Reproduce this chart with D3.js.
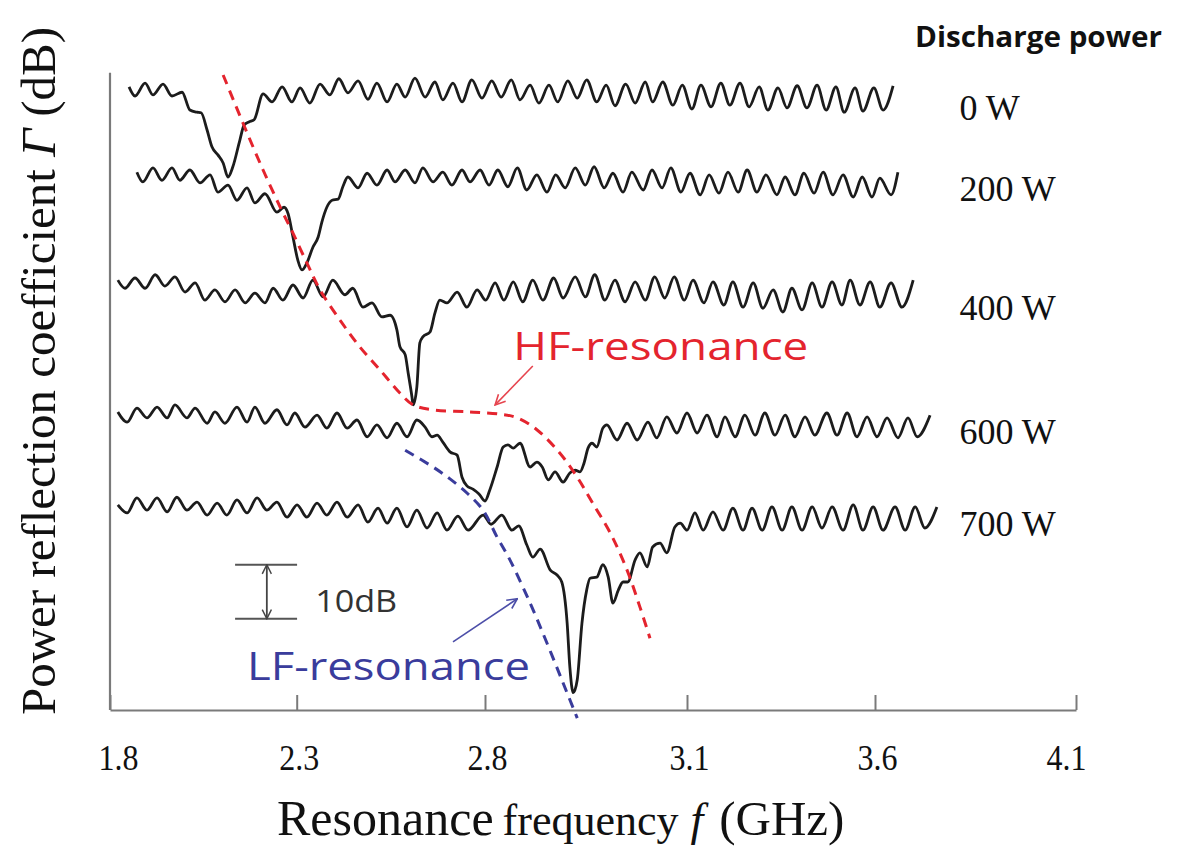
<!DOCTYPE html>
<html><head><meta charset="utf-8">
<script src="https://cdn.jsdelivr.net/npm/d3@7/dist/d3.min.js"></script>
<style>
html,body{margin:0;padding:0;background:#fff;}
svg{display:block;}
</style></head><body>
<svg id="chart" width="1177" height="851"></svg>
<script>
// ---------- data (frequency in GHz, reflection in dB relative to each trace's offset) ----------
const tickLabels = [1.8, 2.3, 2.8, 3.1, 3.6, 4.1];
const powers = ["0 W", "200 W", "400 W", "600 W", "700 W"];
const offsets = [-5, -20, -42, -65, -82];   // stacking offset of each trace (dB)

const trace0W = [[1.851,0.4],[1.867,-1.3],[1.894,1.1],[1.915,-1.1],[1.942,0.9],[1.966,-1.3],[1.993,-0.6],[2.014,-3.9],[2.033,-4.3],[2.044,-4.4],[2.060,-7.6],[2.073,-10.7],[2.089,-12.2],[2.103,-13.7],[2.116,-16.3],[2.129,-14.4],[2.148,-9.4],[2.159,-6.7],[2.172,-6.1],[2.186,-5.7],[2.210,-0.9],[2.234,-2.4],[2.261,0.4],[2.287,-2.4],[2.309,0.2],[2.335,-2.6],[2.362,0.9],[2.388,-1.1],[2.412,1.9],[2.436,-0.7],[2.463,1.5],[2.489,-1.9],[2.513,1.1],[2.540,-2.4],[2.566,0.9],[2.588,-1.5],[2.614,2.0],[2.641,-1.5],[2.667,1.3],[2.688,-2.0],[2.715,1.1],[2.739,-2.4],[2.765,1.7],[2.792,-1.7],[2.810,1.5],[2.824,-1.5],[2.839,1.7],[2.852,-2.0],[2.867,0.7],[2.880,-2.6],[2.895,0.7],[2.908,-2.4],[2.923,1.5],[2.937,-1.7],[2.951,1.7],[2.966,-2.4],[2.980,0.7],[2.993,-3.1],[3.009,0.9],[3.023,-2.6],[3.038,1.3],[3.049,-2.4],[3.064,1.3],[3.079,-3.0],[3.093,0.7],[3.113,-3.7],[3.137,0.7],[3.164,-3.3],[3.190,1.1],[3.214,-3.0],[3.241,1.1],[3.265,-3.3],[3.292,0.4],[3.315,-3.9],[3.342,0.2],[3.366,-3.5],[3.393,0.6],[3.419,-3.5],[3.446,0.7],[3.470,-3.9],[3.496,0.4],[3.518,-4.3],[3.547,0.2],[3.568,-4.1],[3.597,0.2],[3.620,-3.9],[3.645,0.6]];

const trace200W = [[1.872,-0.4],[1.888,-2.2],[1.915,0.4],[1.939,-1.9],[1.966,0.4],[1.987,-1.9],[2.014,0],[2.041,-2.4],[2.068,-0.9],[2.089,-4.1],[2.116,-2.8],[2.140,-5.6],[2.167,-3.3],[2.188,-6.1],[2.215,-4.4],[2.247,-7.8],[2.266,-6.9],[2.277,-8.1],[2.290,-12.4],[2.303,-16.7],[2.314,-18.5],[2.327,-17.2],[2.343,-14.3],[2.357,-12.4],[2.367,-9.6],[2.380,-6.9],[2.394,-5.6],[2.410,-5.4],[2.423,-3.0],[2.436,-1.3],[2.463,-3.3],[2.487,-0.6],[2.513,-2.8],[2.540,0],[2.561,-2.2],[2.588,0],[2.614,-2.4],[2.635,0.4],[2.662,-2.2],[2.688,-0.4],[2.712,-2.8],[2.739,0],[2.760,-2.2],[2.787,0],[2.806,-2.8],[2.819,0],[2.834,-3.1],[2.848,0.4],[2.862,-3.7],[2.877,-0.9],[2.892,-4.1],[2.905,-0.9],[2.919,-3.3],[2.934,0.4],[2.949,-2.8],[2.962,0.6],[2.977,-3.3],[2.990,-0.6],[3.005,-4.1],[3.018,-0.4],[3.035,-3.7],[3.048,0],[3.063,-3.3],[3.076,0.4],[3.091,-4.1],[3.108,-0.6],[3.135,-4.6],[3.159,-0.9],[3.185,-4.3],[3.209,-0.4],[3.236,-4.1],[3.260,0],[3.286,-4.1],[3.310,-0.9],[3.339,-4.6],[3.361,-1.3],[3.387,-4.6],[3.411,-0.6],[3.438,-4.3],[3.462,-0.4],[3.488,-4.6],[3.515,-0.9],[3.542,-5.0],[3.566,-1.3],[3.592,-5.0],[3.612,-1.5],[3.640,-4.6],[3.657,-0.4]];

const trace400W = [[1.821,1.6],[1.840,0.1],[1.867,2.0],[1.894,0.1],[1.921,2.6],[1.947,0.5],[1.974,2.2],[2.001,-0.6],[2.028,1.1],[2.054,-2.1],[2.081,-0.2],[2.108,-2.4],[2.135,-0.2],[2.162,-2.6],[2.188,-0.8],[2.215,-2.6],[2.237,0.1],[2.263,-2.1],[2.290,0.7],[2.317,-1.7],[2.343,1.6],[2.370,-1.5],[2.396,1.6],[2.428,-1.1],[2.449,0.1],[2.476,-3.4],[2.500,-2.6],[2.526,-5.2],[2.548,-4.9],[2.566,-7.6],[2.574,-10.7],[2.588,-12.2],[2.596,-15.6],[2.606,-20.0],[2.609,-21.5],[2.619,-18.2],[2.627,-10.0],[2.635,-8.9],[2.654,-8.0],[2.667,-4.5],[2.680,-2.1],[2.699,-2.6],[2.726,-0.6],[2.752,-3.4],[2.779,-0.2],[2.801,-2.1],[2.815,1.1],[2.828,-2.1],[2.842,1.3],[2.856,-2.4],[2.871,1.6],[2.886,-2.1],[2.902,2.0],[2.916,-1.7],[2.934,2.2],[2.949,-1.5],[2.963,2.6],[2.978,-2.1],[2.993,1.6],[3.008,-2.4],[3.023,1.3],[3.038,-2.1],[3.052,2.2],[3.067,-1.7],[3.081,2.2],[3.096,-2.1],[3.116,1.6],[3.145,-2.6],[3.169,1.3],[3.198,-3.0],[3.222,1.3],[3.249,-3.4],[3.276,1.1],[3.302,-3.6],[3.329,-0.2],[3.355,-4.3],[3.379,0.1],[3.406,-3.9],[3.433,1.1],[3.459,-3.4],[3.486,1.3],[3.512,-3.0],[3.534,1.6],[3.560,-3.0],[3.587,1.3],[3.612,-3.4],[3.640,1.1],[3.667,-3.4],[3.695,1.6]];

const trace600W = [[1.821,0.2],[1.846,-1.7],[1.872,0.9],[1.899,-0.9],[1.926,1.1],[1.953,-0.9],[1.974,1.5],[2.006,-0.9],[2.028,0.9],[2.060,-1.9],[2.081,0.2],[2.108,-1.9],[2.140,1.1],[2.167,-1.7],[2.188,1.1],[2.215,-1.9],[2.247,0.6],[2.274,-2.2],[2.295,0],[2.322,-2.6],[2.354,-0.4],[2.380,-2.8],[2.407,0],[2.434,-2.8],[2.460,-1.3],[2.487,-4.4],[2.513,-2.2],[2.540,-4.6],[2.566,-1.9],[2.593,-4.4],[2.619,-1.3],[2.641,-2.6],[2.659,-4.4],[2.673,-4.1],[2.688,-5.4],[2.707,-7.2],[2.726,-7.8],[2.739,-11.9],[2.752,-13.5],[2.768,-14.1],[2.784,-15.0],[2.800,-16.3],[2.807,-14.3],[2.818,-10.0],[2.827,-6.3],[2.834,-5.9],[2.842,-6.5],[2.852,-5.6],[2.867,-10.0],[2.877,-9.1],[2.885,-10.0],[2.894,-12.4],[2.904,-10.9],[2.916,-12.8],[2.926,-11.1],[2.934,-10.6],[2.941,-10.9],[2.947,-9.3],[2.953,-6.5],[2.959,-5.6],[2.966,-6.3],[2.975,-2.8],[2.981,-2.2],[2.996,-5.0],[3.011,-1.9],[3.026,-5.0],[3.042,-1.7],[3.055,-4.6],[3.070,-0.7],[3.085,-3.7],[3.100,0],[3.127,-3.7],[3.153,-0.4],[3.180,-4.4],[3.201,-0.7],[3.228,-4.4],[3.254,-0.4],[3.281,-4.1],[3.307,0],[3.334,-4.1],[3.361,-0.4],[3.387,-4.4],[3.414,-0.7],[3.440,-4.1],[3.472,0],[3.499,-4.1],[3.526,0],[3.552,-4.4],[3.579,-0.7],[3.605,-4.4],[3.630,-0.9],[3.657,-4.6],[3.682,-0.9],[3.705,-4.4],[3.737,-0.4]];

const trace700W = [[1.821,0],[1.846,-1.5],[1.872,1.3],[1.899,-1.0],[1.926,1.3],[1.953,-1.3],[1.979,1.4],[2.006,-1.0],[2.033,0.5],[2.060,-1.9],[2.087,0.3],[2.113,-1.9],[2.140,0.9],[2.167,-1.5],[2.194,1.3],[2.220,-1.0],[2.247,0.5],[2.274,-2.3],[2.301,0],[2.327,-2.3],[2.354,0.3],[2.380,-1.9],[2.407,0.5],[2.434,-2.3],[2.463,0],[2.489,-3.2],[2.516,-0.6],[2.540,-3.4],[2.566,-0.6],[2.593,-4.1],[2.619,-1.0],[2.646,-4.3],[2.673,-1.5],[2.699,-4.7],[2.728,-2.1],[2.755,-4.7],[2.795,-1.9],[2.809,-3.6],[2.825,-1.9],[2.840,-4.7],[2.850,-3.9],[2.862,-7.4],[2.871,-9.7],[2.882,-8.2],[2.897,-12.1],[2.907,-13.0],[2.914,-14.3],[2.922,-21.9],[2.926,-30.0],[2.931,-34.8],[2.937,-32.4],[2.944,-21.9],[2.951,-15.8],[2.956,-13.6],[2.966,-13.4],[2.975,-11.1],[2.983,-13.4],[2.990,-18.2],[2.998,-15.8],[3.005,-14.3],[3.012,-14.3],[3.023,-10.2],[3.030,-8.9],[3.041,-11.5],[3.049,-7.8],[3.060,-7.1],[3.070,-8.9],[3.082,-4.1],[3.090,-3.4],[3.100,-4.7],[3.121,-1.5],[3.143,-4.7],[3.169,-1.3],[3.196,-4.7],[3.222,-0.6],[3.249,-4.7],[3.273,-0.6],[3.300,-4.7],[3.326,-0.4],[3.353,-4.7],[3.379,-0.4],[3.406,-4.7],[3.433,-0.4],[3.459,-4.3],[3.486,-0.4],[3.515,-4.7],[3.542,0],[3.568,-4.7],[3.595,-0.4],[3.620,-4.7],[3.650,-0.4],[3.675,-4.7],[3.700,-0.4],[3.724,-4.3],[3.754,-0.4]];

// resonance guide curves (absolute stacked dB)
const hfGuide = [[2.103,-2.4],[2.156,-11.3],[2.210,-20.0],[2.258,-27.2],[2.290,-31.7],[2.327,-37.2],[2.362,-42.2],[2.415,-47.8],[2.468,-52.8],[2.521,-57.0],[2.574,-61.3],[2.609,-63.5],[2.662,-64.4],[2.760,-64.8],[2.822,-65.2],[2.848,-65.9],[2.877,-68.1],[2.911,-72.4],[2.937,-76.9],[2.960,-81.7],[2.986,-87.2],[3.011,-94.1],[3.030,-100.9],[3.045,-106.7]];
const lfGuide = [[2.588,-71.9],[2.662,-75.0],[2.707,-77.2],[2.755,-80.0],[2.795,-83.0],[2.818,-88.0],[2.837,-92.2],[2.867,-100.2],[2.892,-107.6],[2.916,-115.0],[2.937,-121.5]];

const scaleBarDb = 10;

const traces = [trace0W, trace200W, trace400W, trace600W, trace700W];

// ---------- layout ----------
const svg = d3.select("#chart");
const x = d3.scaleLinear().domain(tickLabels).range([110, 296.7, 485, 687, 875, 1076]);
const y = d3.scaleLinear().domain([0, -120]).range([62, 710]);

const RED = "#e4242e", BLUE = "#3a3c9c";
const serif = "'Liberation Serif','Times New Roman',serif";
const sans = "'Open Sans','Noto Sans',sans-serif";

svg.append("defs").html(`
  <marker id="arrR" viewBox="0 0 12 12" refX="11" refY="6" markerWidth="12" markerHeight="12" markerUnits="userSpaceOnUse" orient="auto-start-reverse">
    <path d="M1,1 L11,6 L1,11" fill="none" stroke="#e6444e" stroke-width="1.6"/></marker>
  <marker id="arrB" viewBox="0 0 12 12" refX="11" refY="6" markerWidth="12" markerHeight="12" markerUnits="userSpaceOnUse" orient="auto-start-reverse">
    <path d="M1,1 L11,6 L1,11" fill="none" stroke="#4c4ea8" stroke-width="1.6"/></marker>
  <marker id="arrK" viewBox="0 0 12 12" refX="11" refY="6" markerWidth="11" markerHeight="11" markerUnits="userSpaceOnUse" orient="auto-start-reverse">
    <path d="M1,1 L11,6 L1,11" fill="none" stroke="#444" stroke-width="1.6"/></marker>
`);

// axes
const xAxis = d3.axisBottom(x).tickValues(tickLabels).tickFormat(d3.format(".1f"))
  .tickSize(-15).tickSizeOuter(0).tickPadding(34);
const gx = svg.append("g").attr("transform", `translate(0,${y(-120)})`).call(xAxis);
gx.select(".domain").attr("stroke", "#7a7a7a").attr("stroke-width", 2.2);
gx.selectAll(".tick line").attr("stroke", "#7a7a7a").attr("stroke-width", 2);
const nT = tickLabels.length;
gx.selectAll(".tick text").attr("fill", "#111")
  .style("font-family", serif).style("font-size", "36px")
  .attr("textLength", 40).attr("lengthAdjust", "spacingAndGlyphs")
  .attr("dx", (d, i) => i === 0 ? 8 : (i === nT - 1 ? -10 : 2));
svg.append("line").attr("x1", x(1.8)).attr("x2", x(1.8)).attr("y1", y(-2)).attr("y2", y(-120))
  .attr("stroke", "#7a7a7a").attr("stroke-width", 2.2);

// traces
traces.forEach((tr, i) => {
  const line = d3.line().x(d => x(d[0])).y(d => y(d[1] + offsets[i])).curve(d3.curveMonotoneX);
  svg.append("path").datum(tr).attr("d", line).attr("fill", "none")
    .attr("stroke", "#1c1c1c").attr("stroke-width", 2.8).attr("stroke-linejoin", "round");
  svg.append("text").attr("x", x(3.81)).attr("y", y(offsets[i]) + 31)
    .style("font-family", serif).style("font-size", "36px")
    .attr("fill", "#111").text(powers[i]);
});

// guide curves
const gLine = d3.line().x(d => x(d[0])).y(d => y(d[1])).curve(d3.curveCatmullRom);
svg.append("path").datum(hfGuide).attr("d", gLine).attr("fill", "none")
  .attr("stroke", RED).attr("stroke-width", 3).attr("stroke-dasharray", "10,7");
svg.append("path").datum(lfGuide).attr("d", gLine).attr("fill", "none")
  .attr("stroke", BLUE).attr("stroke-width", 3).attr("stroke-dasharray", "10,7");

// annotations
svg.append("text").attr("x", x(2.842)).attr("y", y(-55.2)).attr("fill", RED)
  .style("font-family", sans).style("font-size", "38px")
  .attr("textLength", 295).attr("lengthAdjust", "spacingAndGlyphs").text("HF-resonance");
svg.append("line").attr("x1", x(2.871)).attr("y1", y(-56.3)).attr("x2", x(2.815)).attr("y2", y(-63.5))
  .attr("stroke", "#e6444e").attr("stroke-width", 1.6).attr("marker-end", "url(#arrR)");
svg.append("text").attr("x", x(2.167)).attr("y", y(-114.4)).attr("fill", BLUE)
  .style("font-family", sans).style("font-size", "38px")
  .attr("textLength", 283).attr("lengthAdjust", "spacingAndGlyphs").text("LF-resonance");
svg.append("line").attr("x1", x(2.715)).attr("y1", y(-107.4)).attr("x2", x(2.848)).attr("y2", y(-99.4))
  .attr("stroke", "#4c4ea8").attr("stroke-width", 1.6).attr("marker-end", "url(#arrB)");

// 10 dB scale bar
const sbTop = -93.1;
[sbTop, sbTop - scaleBarDb].forEach(v => {
  svg.append("line").attr("x1", x(2.135)).attr("x2", x(2.301)).attr("y1", y(v)).attr("y2", y(v))
    .attr("stroke", "#555").attr("stroke-width", 2);
});
svg.append("line").attr("x1", x(2.22)).attr("x2", x(2.22)).attr("y1", y(sbTop)).attr("y2", y(sbTop - scaleBarDb))
  .attr("stroke", "#444").attr("stroke-width", 1.8)
  .attr("marker-start", "url(#arrK)").attr("marker-end", "url(#arrK)");
svg.append("text").attr("x", x(2.349)).attr("y", y(-101.9)).attr("fill", "#333")
  .style("font-family", sans).style("font-size", "31px")
  .attr("textLength", 82).attr("lengthAdjust", "spacingAndGlyphs").text(scaleBarDb + "dB");

// titles
svg.append("text").attr("x", 915).attr("y", 47).attr("fill", "#111")
  .style("font-family", sans).style("font-weight", 700).style("font-size", "28px")
  .attr("textLength", 247).attr("lengthAdjust", "spacingAndGlyphs").text("Discharge power");

const yt = svg.append("text").attr("transform", "translate(55,371) rotate(-90)")
  .attr("text-anchor", "middle").attr("fill", "#111")
  .style("font-family", serif).style("font-size", "49px");
yt.append("tspan").text("Power reflection coefficient ");
yt.append("tspan").style("font-style", "italic").text("Γ");
yt.append("tspan").text(" (dB)");

const xt = svg.append("text").attr("x", 277).attr("y", 835).attr("fill", "#111").style("font-family", serif);
xt.append("tspan").style("font-size", "50px").text("Resonance");
xt.append("tspan").attr("dx", 9).style("font-size", "44px").text("frequency");
xt.append("tspan").attr("dx", 12).style("font-size", "46px").style("font-style", "italic").text("f");
xt.append("tspan").attr("dx", 16).style("font-size", "49px").text("(GHz)");
</script>
</body></html>
